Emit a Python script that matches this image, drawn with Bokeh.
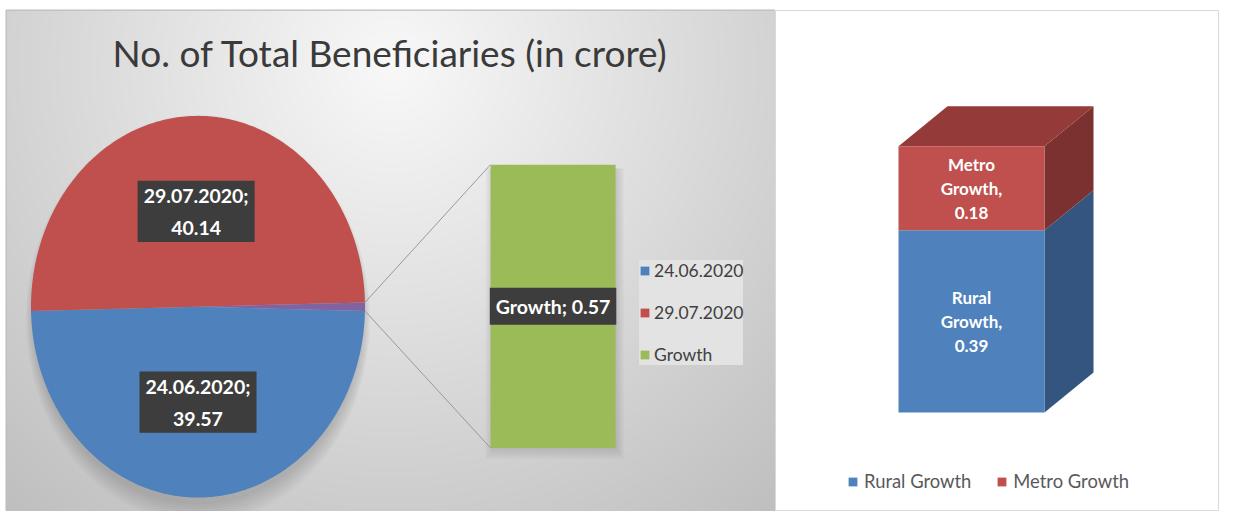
import numpy as np
from bokeh.plotting import figure
from bokeh.models import Label, Legend, LegendItem, Range1d, ColumnDataSource
from bokeh.layouts import row
from bokeh.embed import file_html
from bokeh.resources import INLINE

# ---------------- data ----------------
title_text = "No. of Total Beneficiaries (in crore)"
pie_labels = ["24.06.2020", "29.07.2020"]
pie_values = [39.57, 40.14]
growth_label = "Growth"
growth_value = 0.57
stack_labels = ["Rural Growth", "Metro Growth"]
stack_values = [0.39, 0.18]

# ---------------- styles ----------------
BLUE, RED, GREEN, PURPLE = "#4F81BD", "#C0504D", "#9BBB59", "#8064A2"
pie_colors = [BLUE, RED]
stack_colors = [BLUE, RED]
side_colors = ["#33557F", "#7B3130"]
top_color = "#943B39"
FONT = "Lato"

# left figure: frame from (6,7) to (775,511)
LW, LH = 775, 511
LB_LEFT, LB_TOP = 6, 7
FW, FH = LW - LB_LEFT, LH - LB_TOP
# pie geometry in frame pixels
CX, CY = 191.5, 298.0
RX, RY = 167.0, 192.0

p = figure(width=LW, height=LH,
           x_range=Range1d(-CX / RX, (FW - CX) / RX),
           y_range=Range1d(-(FH - CY) / RY, CY / RY),
           output_backend="svg", toolbar_location=None,
           min_border=0, min_border_left=LB_LEFT, min_border_top=LB_TOP,
           x_axis_location=None, y_axis_location=None)
p.grid.visible = False
p.outline_line_color = "#bdbdbd"
p.outline_line_width = 2
p.border_fill_color = "white"

# background gradient
x0, x1 = p.x_range.start, p.x_range.end
y0, y1 = p.y_range.start, p.y_range.end
jj, ii = np.mgrid[0:FH, 0:FW]
ftop = FH - 1 - jj
d = np.sqrt(((ii - 386) / 560.0) ** 2 + ((ftop - 55) / 560.0) ** 2)
v = np.clip(0.975 - 0.215 * d, 0, 1)
g = (v * 255).astype(np.uint8)
img = np.empty((FH, FW), dtype=np.uint32)
view = img.view(dtype=np.uint8).reshape((FH, FW, 4))
view[:, :, 0] = g
view[:, :, 1] = g
view[:, :, 2] = g
view[:, :, 3] = 255
p.image_rgba(image=[img], x=x0, y=y0, dw=x1 - x0, dh=y1 - y0)

# soft shadow behind the pie (mostly below)
for k in range(8):
    p.ellipse(x=[0.0], y=[-0.035 - 0.004 * k], width=1.98 + 0.012 * k, height=2.0 + 0.02 * k,
              fill_color="black", fill_alpha=0.02, line_color=None)

# pie slices
total = sum(pie_values) + growth_value
g_ang = 2 * np.pi * growth_value / total
xs, ys, mids = [], [], []
edge = -g_ang / 2
for val in pie_values:
    a0 = edge
    a1 = edge - 2 * np.pi * val / total
    t = np.linspace(a0, a1, 200)
    xs.append([0.0] + list(np.cos(t)))
    ys.append([0.0] + list(np.sin(t)))
    mids.append((a0 + a1) / 2)
    edge = a1
pie_src = ColumnDataSource(dict(xs=xs, ys=ys, color=pie_colors, label=pie_labels))
pie_r = p.patches("xs", "ys", source=pie_src, fill_color="color", line_color=None)

t = np.linspace(-g_ang / 2, g_ang / 2, 20)
p.patch([0.0] + list(np.cos(t)), [0.0] + list(np.sin(t)), fill_color=PURPLE, line_color=None)

# bar of pie
BAR_X, BAR_W = 2.126, 0.749
BAR_BOTTOM, BAR_SCALE = -0.740, 2.604
bar_top = BAR_BOTTOM + growth_value * BAR_SCALE
for k in range(5):
    p.vbar(x=[BAR_X + 0.01], width=BAR_W + 0.02 * k, bottom=[BAR_BOTTOM - 0.01 - 0.012 * k],
           top=[bar_top - 0.02], fill_color="black", fill_alpha=0.025, line_color=None)
bar_src = ColumnDataSource(dict(x=[BAR_X], bottom=[BAR_BOTTOM], top=[bar_top]))
bar_r = p.vbar(x="x", width=BAR_W, bottom="bottom", top="top", source=bar_src,
               fill_color=GREEN, line_color=None)

# connector lines
bl = BAR_X - BAR_W / 2
p.segment(x0=[np.cos(g_ang / 2), np.cos(-g_ang / 2)],
          y0=[np.sin(g_ang / 2), np.sin(-g_ang / 2)],
          x1=[bl, bl], y1=[bar_top, BAR_BOTTOM],
          line_color="#999999", line_width=1)

# title
p.add_layout(Label(x=384, y=LH - 52, x_units="screen", y_units="screen",
                   text=title_text, text_font=FONT, text_font_size="37px",
                   text_color="#3a3a3a", text_align="center", text_baseline="middle"))

# data labels
def dlabel(fig, x, y, text, pad, lh):
    fig.add_layout(Label(x=x, y=y, text=text, text_font=FONT, text_font_style="bold",
                         text_font_size="19.5px", text_color="white",
                         text_align="center", text_baseline="middle",
                         background_fill_color="#3d3d3d", background_fill_alpha=1.0,
                         padding=pad, text_line_height=lh))

for lab, val, m in zip(pie_labels, pie_values, mids):
    dlabel(p, 0.5 * np.cos(m), 0.5 * np.sin(m), f"{lab};\n{val:.2f}", (6, 3), 1.4)
dlabel(p, BAR_X, BAR_BOTTOM + growth_value * BAR_SCALE / 2,
       f"{growth_label}; {growth_value:.2f}", (6, 7), 1.2)

leg = Legend(items=[LegendItem(label=pie_labels[0], renderers=[pie_r], index=0),
                    LegendItem(label=pie_labels[1], renderers=[pie_r], index=1),
                    LegendItem(label=growth_label, renderers=[bar_r])],
             location=(633, 146), orientation="vertical",
             glyph_width=11, glyph_height=11, label_height=20, spacing=21,
             label_standoff=4, padding=10, margin=0,
             label_text_font=FONT, label_text_font_size="17.5px", label_text_color="#404040",
             background_fill_color="#e3e3e3", background_fill_alpha=1.0,
             border_line_color=None)
p.add_layout(leg, "center")

# ---------------- right panel: 3D stacked bar ----------------
RW, RH = 1219 - LW, 511
RB_TOP = 10
RFH = RH - RB_TOP
BCX = 196.0
UX, UY = 146.0, 467.0
BY0 = 402.0
q = figure(width=RW, height=RH,
           x_range=Range1d(-BCX / UX, (RW - BCX) / UX),
           y_range=Range1d(-(RFH - BY0) / UY, BY0 / UY),
           output_backend="svg", toolbar_location=None,
           min_border=0, min_border_top=RB_TOP,
           x_axis_location=None, y_axis_location=None)
q.grid.visible = False
q.outline_line_color = "#d9d9d9"
q.background_fill_color = "white"
q.border_fill_color = "white"

DX, DY = 49 / UX, 40 / UY
bottoms = list(np.cumsum([0] + stack_values[:-1]))
tops = list(np.cumsum(stack_values))
st_src = ColumnDataSource(dict(x=[0.0] * len(stack_values), bottom=bottoms, top=tops,
                               color=stack_colors, label=stack_labels))
sxs, sys_ = [], []
for b, tp in zip(bottoms, tops):
    sxs.append([0.5, 0.5 + DX, 0.5 + DX, 0.5])
    sys_.append([b, b + DY, tp + DY, tp])
q.patches(sxs, sys_, fill_color=side_colors, line_color=None)
T = tops[-1]
q.patch([-0.5, 0.5, 0.5 + DX, -0.5 + DX], [T, T, T + DY, T + DY], fill_color=top_color, line_color=None)
st_r = q.vbar(x="x", width=1.0, bottom="bottom", top="top", source=st_src,
              fill_color="color", line_color=None)

for lab, b, tp, val in zip(stack_labels, bottoms, tops, stack_values):
    w = lab.split(" ")
    q.add_layout(Label(x=0, y=(b + tp) / 2, text=f"{w[0]}\n{w[1]},\n{val:.2f}",
                       text_font=FONT, text_font_style="bold", text_font_size="17px",
                       text_color="white", text_align="center", text_baseline="middle",
                       text_line_height=1.15))

leg2 = Legend(items=[LegendItem(label=stack_labels[i], renderers=[st_r], index=i)
                     for i in range(len(stack_labels))],
              location=(72, 19), orientation="horizontal",
              glyph_width=11, glyph_height=11, label_height=20, spacing=25,
              label_standoff=6, padding=0, margin=0,
              label_text_font=FONT, label_text_font_size="18.4px", label_text_color="#595959",
              background_fill_alpha=0.0, border_line_color=None)
q.add_layout(leg2, "center")

layout = row(p, q, spacing=0)
open("out.html", "w").write(file_html(layout, INLINE))
